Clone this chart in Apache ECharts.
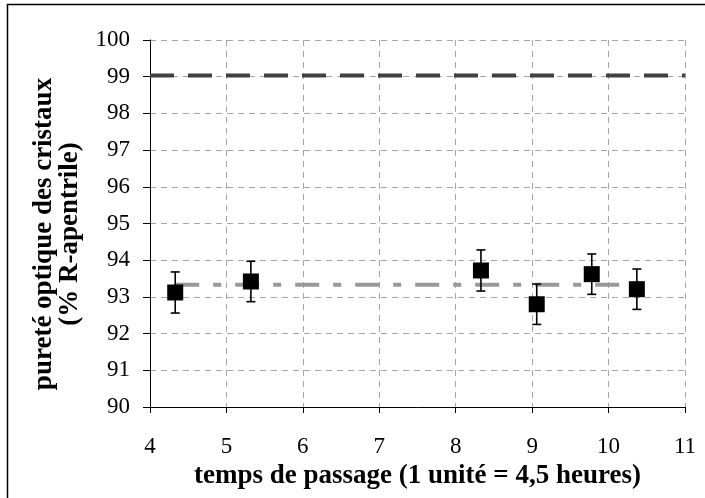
<!DOCTYPE html>
<html>
<head>
<meta charset="utf-8">
<script src="https://cdn.jsdelivr.net/npm/echarts@6/dist/echarts.min.js"></script>
<style>html,body{margin:0;padding:0;background:#fff;}#c{width:705px;height:498px;}</style>
</head>
<body>
<div id="c"></div>
<script>
var xTicks = [4, 5, 6, 7, 8, 9, 10, 11];
var yTicks = [90, 91, 92, 93, 94, 95, 96, 97, 98, 99, 100];
var timeValues = [4.33, 5.32, 8.33, 9.06, 9.78, 10.37];
var purityValues = [93.12, 93.42, 93.72, 92.80, 93.62, 93.21];
var errorValues = [0.56, 0.55, 0.56, 0.55, 0.55, 0.55];
var meanLine = [[4.33, 93.33], [10.37, 93.33]];
var targetLine = [[4, 99.03], [11, 99.03]];
var xTitle = 'temps de passage (1 unité = 4,5 heures)';
var yTitle = 'pureté optique des cristaux\n(% R-apentrile)';

var points = timeValues.map(function (t, i) { return [t, purityValues[i]]; });
var errors = timeValues.map(function (t, i) {
  return [t, purityValues[i] - errorValues[i], purityValues[i] + errorValues[i]];
});

var chart = echarts.init(document.getElementById('c'), null, { renderer: 'canvas' });
var font = '"Liberation Serif", "Times New Roman", serif';
chart.setOption({
  animation: false,
  backgroundColor: '#fff',
  grid: { left: 150, top: 40, right: 20, bottom: 91, containLabel: false },
  graphic: [{
    type: 'rect', shape: { x: 7.5, y: 4.5, width: 710, height: 510 },
    style: { fill: 'none', stroke: '#000', lineWidth: 1.5 }, silent: true, z: 100
  }, {
    type: 'text', x: 57, y: 234, rotation: Math.PI / 2, silent: true,
    style: {
      text: yTitle, fontFamily: font, fontSize: 27, fontWeight: 'bold', fill: '#000',
      align: 'center', verticalAlign: 'middle', lineHeight: 26
    }
  }],
  xAxis: {
    type: 'value', min: xTicks[0], max: xTicks[xTicks.length - 1], interval: 1,
    name: xTitle, nameLocation: 'middle', nameGap: 52,
    nameTextStyle: { fontFamily: font, fontSize: 27, fontWeight: 'bold', color: '#000' },
    axisLine: { onZero: false, lineStyle: { color: '#000', width: 1 } },
    axisTick: { show: true, length: 6, inside: false, lineStyle: { color: '#000' } },
    axisLabel: { margin: 28, fontFamily: font, fontSize: 23, color: '#000' },
    splitLine: { show: true, lineStyle: { color: '#a6a6a6', type: [6, 5], width: 1 } }
  },
  yAxis: {
    type: 'value', min: yTicks[0], max: yTicks[yTicks.length - 1], interval: 1,
    axisLine: { show: true, lineStyle: { color: '#000', width: 1 } },
    axisTick: { show: true, length: 7, lineStyle: { color: '#000' } },
    axisLabel: { margin: 20, fontFamily: font, fontSize: 23, color: '#000' },
    splitLine: { show: true, lineStyle: { color: '#a6a6a6', type: [6, 5], width: 1 } }
  },
  series: [
    {
      type: 'line', data: targetLine, symbol: 'none', z: 3,
      lineStyle: { color: '#404040', width: 4, type: [24, 14] }
    },
    {
      type: 'line', data: meanLine, symbol: 'none', z: 3,
      lineStyle: { color: '#999999', width: 4, type: [24, 14, 8, 14] }
    },
    {
      type: 'custom', data: errors, z: 4,
      renderItem: function (params, api) {
        var lo = api.coord([api.value(0), api.value(1)]);
        var hi = api.coord([api.value(0), api.value(2)]);
        var w = 4.5;
        var st = { stroke: '#000', lineWidth: 1.6 };
        return {
          type: 'group', children: [
            { type: 'line', shape: { x1: lo[0], y1: lo[1], x2: hi[0], y2: hi[1] }, style: st },
            { type: 'line', shape: { x1: lo[0] - w, y1: lo[1], x2: lo[0] + w, y2: lo[1] }, style: st },
            { type: 'line', shape: { x1: hi[0] - w, y1: hi[1], x2: hi[0] + w, y2: hi[1] }, style: st }
          ]
        };
      }
    },
    {
      type: 'scatter', data: points, symbol: 'rect', symbolSize: 16, z: 5,
      itemStyle: { color: '#000', opacity: 1 }
    }
  ]
});
</script>
</body>
</html>
